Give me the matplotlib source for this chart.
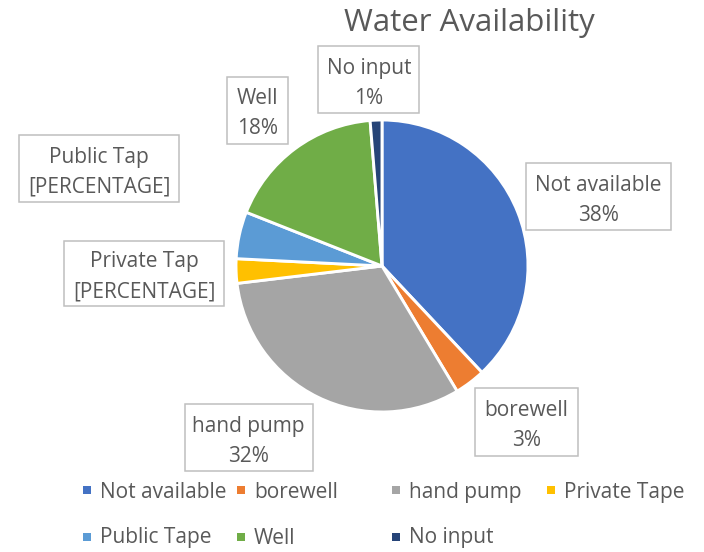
import matplotlib
matplotlib.use("Agg")
import matplotlib.pyplot as plt
from matplotlib.patches import Rectangle

# Water source categories (clockwise from 12 o'clock)
categories = ["Not available", "borewell", "hand pump", "Private Tap",
              "Public Tap", "Well", "No input"]
legend_names = ["Not available", "borewell", "hand pump", "Private Tape",
                "Public Tape", "Well", "No input"]
shares = [38.0, 3.4, 31.7, 2.7, 5.2, 17.7, 1.3]
# categories whose data label shows the placeholder field text
placeholder_labels = {"Private Tap", "Public Tap"}
colors = ["#4472C4", "#ED7D31", "#A5A5A5", "#FFC000",
          "#5B9BD5", "#70AD47", "#264478"]

W, H = 704, 552
TEXT = "#595959"
FONT = "Open Sans"

fig = plt.figure(figsize=(W / 100, H / 100), dpi=100)


def fx(x):
    return x / W


def fy(y):
    return 1 - y / H


# pie axes: centre (382, 266) px, radius 146 px
cx, cy, r = 382, 266, 146
ax = fig.add_axes([fx(cx - r), fy(cy + r), 2 * r / W, 2 * r / H])
wedges, _ = ax.pie(shares, colors=colors, startangle=90, counterclock=False,
                   radius=1.0,
                   wedgeprops=dict(edgecolor="white", linewidth=2.1))
ax.set_xlim(-1, 1)
ax.set_ylim(-1, 1)
ax.set_aspect("equal", adjustable="box")
ax.axis("off")

fig.text(fx(469), fy(22.5), "Water Availability", ha="center", va="center",
         fontsize=22.5, color=TEXT, family=FONT)

# data label boxes: (centre x, centre y, width, height) in px
label_boxes = {
    "Not available": (598.5, 196.7, 145, 67),
    "borewell": (526.5, 422.0, 103, 68),
    "hand pump": (248.5, 437.5, 128, 67),
    "Private Tap": (144.3, 273.0, 160, 65),
    "Public Tap": (99.2, 168.3, 160, 67),
    "Well": (257.8, 110.0, 61, 67),
    "No input": (368.8, 79.3, 101, 67),
}

total = sum(shares)
for name, val in zip(categories, shares):
    bx, by, bw, bh = label_boxes[name]
    rect = Rectangle((fx(bx - bw / 2), fy(by + bh / 2)), bw / W, bh / H,
                     transform=fig.transFigure, fill=False,
                     edgecolor="#BFBFBF", linewidth=1.1)
    fig.add_artist(rect)
    if name in placeholder_labels:
        second = "[PERCENTAGE]"
    else:
        second = f"{round(val / total * 100):.0f}%"
    fig.text(fx(bx), fy(by - 5.5), name, ha="center", va="baseline",
             fontsize=15, color=TEXT, family=FONT)
    fig.text(fx(bx), fy(by + 24.5), second, ha="center", va="baseline",
             fontsize=15, color=TEXT, family=FONT)

# legend grid: marker centre x per column, row marker y and text baseline
col_x = [87, 241, 396, 550.5]
row_marker_y = [490, 536.7]
row_baseline = [498, 543.5]
msize = 8
for i, (name, col) in enumerate(zip(legend_names, colors)):
    row, c = divmod(i, 4)
    mx, my = col_x[c], row_marker_y[row]
    sq = Rectangle((fx(mx - msize / 2), fy(my + msize / 2)), msize / W,
                   msize / H, transform=fig.transFigure,
                   facecolor=col, edgecolor="none")
    fig.add_artist(sq)
    fig.text(fx(mx + 13), fy(row_baseline[row]), name, ha="left",
             va="baseline", fontsize=15, color=TEXT, family=FONT)

fig.savefig("out.png", dpi=100, facecolor="white")
